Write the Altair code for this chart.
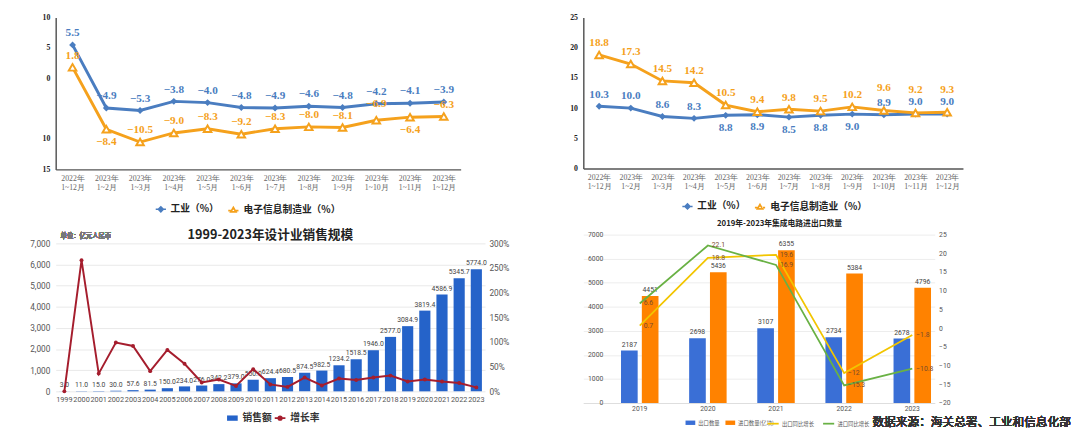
import altair as alt
import pandas as pd

# ---------------- data ----------------
PERIODS = ["2022年|1~12月", "2023年|1~2月", "2023年|1~3月", "2023年|1~4月",
           "2023年|1~5月", "2023年|1~6月", "2023年|1~7月", "2023年|1~8月",
           "2023年|1~9月", "2023年|1~10月", "2023年|1~11月", "2023年|1~12月"]
TL_INDUSTRY = [5.5, -4.9, -5.3, -3.8, -4.0, -4.8, -4.9, -4.6, -4.8, -4.2, -4.1, -3.9]
TL_ELECTRONIC = [1.8, -8.4, -10.5, -9.0, -8.3, -9.2, -8.3, -8.0, -8.1, -6.9, -6.4, -6.3]
TR_INDUSTRY = [10.3, 10.0, 8.6, 8.3, 8.8, 8.9, 8.5, 8.8, 9.0, 8.9, 9.0, 9.0]
TR_ELECTRONIC = [18.8, 17.3, 14.5, 14.2, 10.5, 9.4, 9.8, 9.5, 10.2, 9.6, 9.2, 9.3]

YEARS_BL = ["1999", "2000", "2001", "2002", "2003", "2004", "2005", "2006", "2007",
            "2008", "2009", "2010", "2011", "2012", "2013", "2014", "2015", "2016",
            "2017", "2018", "2019", "2020", "2021", "2022", "2023"]
SALES = [3.0, 11.0, 15.0, 30.0, 57.6, 81.5, 150.0, 234.0, 276.0, 342.2, 379.0, 550.0,
         624.4, 680.5, 874.5, 982.5, 1234.2, 1518.5, 1946.0, 2577.0, 3084.9, 3819.4,
         4586.9, 5345.7, 5774.0]
GROWTH = [0, 266, 36, 99, 92, 41, 84, 56, 18, 24, 11, 45, 14, 9, 28, 12, 26, 23, 28,
          32, 20, 24, 20, 17, 8]

YEARS_BR = ["2019", "2020", "2021", "2022", "2023"]
EXPORT_QTY = [2187, 2698, 3107, 2734, 2678]
IMPORT_QTY = [4451, 5436, 6355, 5384, 4796]
EXPORT_GROWTH = [0.7, 18.8, 19.6, -12.0, -1.8]
IMPORT_GROWTH = [6.6, 22.1, 16.9, -15.3, -10.8]

# ---------------- style ----------------
S1 = "工业（%）"
S2 = "电子信息制造业（%）"
BLUE = "#4a7dc0"
ORANGE = "#f5a11c"
SERIF = "Liberation Serif"
CJK = "Noto Sans CJK SC"
SANS = "Roboto"
DIA_PATH = "M-1,0H-0.5M0.5,0H1M0,-0.5L0.5,0L0,0.5L-0.5,0Z"
TRI_PATH = "M-1,0.15H-0.5M0.5,0.15H1M0,-0.45L0.5,0.4L-0.5,0.4Z"

# label placement per point index: b = below, r / R = raised above
LABEL_DY = {"a": -12, "b": 13, "r": -17, "R": -23}
TL_IND_POS = {}
TL_ELE_POS = {1: "b", 10: "b", 9: "r"}
TR_IND_POS = {4: "b", 5: "b", 6: "b", 7: "b", 8: "b"}
TR_ELE_POS = {9: "R", 10: "R", 11: "R"}


def top_panel(ind, ele, ind_pos, ele_pos, domain, ticks, label_expr, w, h, lx1, lx2, ly):
    rows = []
    for i, p in enumerate(PERIODS):
        rows.append({"period": p, "series": S1, "value": ind[i], "pos": ind_pos.get(i, "a")})
        rows.append({"period": p, "series": S2, "value": ele[i], "pos": ele_pos.get(i, "a")})
    df = pd.DataFrame(rows)
    base = alt.Chart(df).encode(
        x=alt.X("period:N", sort=PERIODS, title=None,
                axis=alt.Axis(labelExpr="split(datum.label, '|')", labelAngle=0,
                              labelFont=SERIF, labelFontSize=8, labelColor="#666",
                              labelLineHeight=10, labelPadding=5, ticks=False,
                              domainColor="#555", domainWidth=1.5)),
        y=alt.Y("value:Q", title=None,
                scale=alt.Scale(domain=domain, nice=False, zero=False),
                axis=alt.Axis(values=ticks, labelExpr=label_expr, grid=False, ticks=False,
                              labelFont=SERIF, labelFontWeight="bold", labelFontSize=8,
                              labelColor="#222", domainColor="#555", domainWidth=1.5,
                              labelPadding=6)),
    )
    layers = []
    for s, c in ((S1, BLUE), (S2, ORANGE)):
        layers.append(base.transform_filter(alt.datum.series == s)
                      .mark_line(color=c, strokeWidth=3))
    dia = base.transform_filter(alt.datum.series == S1).mark_point(
        shape="diamond", filled=True, size=50, opacity=1).encode(
        color=alt.Color("series:N", scale=alt.Scale(domain=[S1], range=[BLUE]),
                        legend=alt.Legend(title=None, orient="none", legendX=lx1, legendY=ly,
                                          symbolType=DIA_PATH, symbolSize=110,
                                          symbolStrokeColor=BLUE, symbolStrokeWidth=1.5,
                                          labelFont=CJK, labelFontSize=10,
                                          labelFontWeight="bold", labelColor="#222")))
    tri = base.transform_filter(alt.datum.series == S2).mark_point(
        shape="triangle-up", filled=False, fill="white", strokeWidth=2, size=60,
        opacity=1).encode(
        stroke=alt.Stroke("series:N", scale=alt.Scale(domain=[S2], range=[ORANGE]),
                          legend=alt.Legend(title=None, orient="none", legendX=lx2,
                                            legendY=ly, symbolType=TRI_PATH, symbolSize=110,
                                            symbolFillColor="white", symbolStrokeWidth=1.8,
                                            labelFont=CJK, labelFontSize=10,
                                            labelFontWeight="bold", labelColor="#222")))
    layers += [dia, tri]
    txt_fill = alt.Fill("series:N", scale=alt.Scale(domain=[S1, S2], range=[BLUE, ORANGE]),
                        legend=None)
    for code, dy in LABEL_DY.items():
        layers.append(
            base.transform_filter(alt.datum.pos == code)
            .mark_text(dy=dy, font=SERIF, fontSize=11.5, fontWeight="bold")
            .encode(text=alt.Text("value:Q", format=".1f"), fill=txt_fill))
    return alt.layer(*layers).properties(width=w, height=h)


tl = top_panel(TL_INDUSTRY, TL_ELECTRONIC, TL_IND_POS, TL_ELE_POS, [-15, 10],
               [10, 5, 0, -10, -15], "format(abs(datum.value), 'd')", 416, 156,
               102, 176, 191)
tr = top_panel(TR_INDUSTRY, TR_ELECTRONIC, TR_IND_POS, TR_ELE_POS, [0, 25],
               [0, 5, 10, 15, 20, 25], "format(datum.value, 'd')", 390, 155,
               101, 175, 188)

# ---------------- bottom-left ----------------
BAR_BLUE = "#2563c9"
RED = "#a51d2d"
df_bl = pd.DataFrame({"year": YEARS_BL, "sales": SALES, "growth": GROWTH})
df_bl["s1"] = "销售额"
df_bl["s2"] = "增长率"
x_bl = alt.X("year:N", title=None, sort=YEARS_BL,
             scale=alt.Scale(paddingInner=0.35, paddingOuter=0.18),
             axis=alt.Axis(labelAngle=0, labelFontSize=7.5, labelColor="#555",
                           labelFont=SANS, ticks=False, domain=False, labelPadding=4))
y_left = alt.Y("sales:Q", title=None, scale=alt.Scale(domain=[0, 7415], nice=False),
               axis=alt.Axis(values=[0, 1000, 2000, 3000, 4000, 5000, 6000, 7000],
                             labelExpr="format(datum.value, ',')", grid=True,
                             gridColor="#e8e8e8", domain=False,
                             ticks=False, labelFont=SANS, labelFontSize=8.5,
                             labelColor="#555", labelPadding=6))
bars = alt.Chart(df_bl).mark_bar(color=BAR_BLUE).encode(
    x=x_bl, y=y_left,
    color=alt.Color("s1:N", scale=alt.Scale(domain=["销售额"], range=[BAR_BLUE]),
                    legend=alt.Legend(title=None, orient="none", legendX=175, legendY=182,
                                      symbolType="M-1,-0.5H1V0.5H-1Z", symbolSize=120,
                                      labelFont=CJK, labelFontSize=10, labelFontWeight="bold",
                                      labelColor="#333")))
bar_txt = alt.Chart(df_bl).mark_text(dy=-6, fontSize=7, font=SANS, color="#444").encode(
    x=x_bl, y=y_left, text=alt.Text("sales:Q", format=".1f"))
y_right = alt.Y("growth:Q", title=None, scale=alt.Scale(domain=[0, 317.8], nice=False),
                axis=alt.Axis(orient="right", values=[0, 50, 100, 150, 200, 250, 300],
                              labelExpr="datum.value + '%'", grid=False, domain=False,
                              ticks=False, labelFont=SANS, labelFontSize=8.5,
                              labelColor="#555", labelPadding=4))
gline = alt.Chart(df_bl).mark_line(strokeWidth=2).encode(
    x=x_bl, y=y_right,
    stroke=alt.Stroke("s2:N", scale=alt.Scale(domain=["增长率"], range=[RED]),
                      legend=alt.Legend(title=None, orient="none", legendX=224, legendY=182,
                                        symbolType="M-1,0H1M0.3,0A0.3,0.3 0 1 1 -0.3,0A0.3,0.3 0 1 1 0.3,0",
                                        symbolSize=120, symbolStrokeWidth=2,
                                        labelFont=CJK, labelFontSize=10,
                                        labelFontWeight="bold", labelColor="#333")))
gpts = alt.Chart(df_bl).mark_circle(size=16, color=RED, opacity=1).encode(x=x_bl, y=y_right)
unit_txt = alt.Chart(df_bl).mark_text(text="单位：亿元人民币", fontSize=6.5, font=CJK,
                                      color="#777", align="left").encode(
    x=alt.value(5), y=alt.value(1))

bl = alt.layer(
    alt.layer(bars, bar_txt, unit_txt),
    alt.layer(gline, gpts),
).resolve_scale(y="independent").properties(
    width=441, height=161,
    title=alt.TitleParams("1999-2023年设计业销售规模", font=CJK, fontSize=13,
                          fontWeight="bold", color="#222", anchor="middle", offset=-9))

# ---------------- bottom-right ----------------
EXP_BLUE = "#3a6fd6"
IMP_ORANGE = "#ff8200"
YELLOW = "#f2c500"
GREEN = "#69b144"
BR_BAR_SERIES = ["出口数量", "进口数量(亿块)"]
BR_LINE_SERIES = ["出口同比增长", "进口同比增长"]
rows = []
for i, yv in enumerate(YEARS_BR):
    rows.append({"year": yv, "series": BR_BAR_SERIES[0], "qty": EXPORT_QTY[i]})
    rows.append({"year": yv, "series": BR_BAR_SERIES[1], "qty": IMPORT_QTY[i]})
df_brb = pd.DataFrame(rows)
rows = []
for i, yv in enumerate(YEARS_BR):
    rows.append({"year": yv, "series": BR_LINE_SERIES[0], "g": EXPORT_GROWTH[i]})
    rows.append({"year": yv, "series": BR_LINE_SERIES[1], "g": IMPORT_GROWTH[i]})
df_brl = pd.DataFrame(rows)

x_br = alt.X("year:N", title=None, sort=YEARS_BR,
             scale=alt.Scale(paddingInner=0.45, paddingOuter=0.304, align=0.91),
             axis=alt.Axis(labelAngle=0, labelFontSize=7, labelColor="#555", labelFont=SANS,
                           ticks=False, domainColor="#ddd", labelPadding=2))
xo = alt.XOffset("series:N", sort=BR_BAR_SERIES, scale=alt.Scale(paddingInner=0.2))
yl_br = alt.Y("qty:Q", title=None, scale=alt.Scale(domain=[0, 7000], nice=False),
              axis=alt.Axis(values=[0, 1000, 2000, 3000, 4000, 5000, 6000, 7000],
                            format="d", grid=True, gridColor="#ececec", domain=False,
                            ticks=False, labelFont=SANS, labelFontSize=7, labelColor="#555",
                            labelPadding=4, offset=-24))
br_bars = alt.Chart(df_brb).mark_bar().encode(
    x=x_br, xOffset=xo, y=yl_br,
    color=alt.Color("series:N", scale=alt.Scale(domain=BR_BAR_SERIES,
                                                range=[EXP_BLUE, IMP_ORANGE]),
                    legend=alt.Legend(title=None, orient="none", legendX=104, legendY=187,
                                      direction="horizontal",
                                      symbolType="M-1,-0.45H1V0.45H-1Z",
                                      symbolSize=100, labelFont=CJK, labelFontSize=5.5,
                                      labelColor="#555", columnPadding=4, labelOffset=2)))
br_btxt = alt.Chart(df_brb).mark_text(dy=-6, fontSize=7, font=SANS, color="#444").encode(
    x=x_br, xOffset=xo, y=yl_br, text=alt.Text("qty:Q", format="d"))
src_txt = alt.Chart(df_brb).mark_text(text="数据来源：海关总署、工业和信息化部", fontSize=12,
                                      font=CJK, color="#333", align="left").encode(
    x=alt.value(297), y=alt.value(193))
yr_br = alt.Y("g:Q", title=None, scale=alt.Scale(domain=[-20, 25], nice=False, zero=False),
              axis=alt.Axis(orient="right", values=[-20, -15, -10, -5, 0, 5, 10, 15, 20, 25],
                            grid=False, domain=False, ticks=False, labelFont=SANS,
                            labelFontSize=7, labelColor="#555", labelPadding=4))
br_lines = alt.Chart(df_brl).mark_line(strokeWidth=1.8).encode(
    x=x_br, y=yr_br,
    stroke=alt.Stroke("series:N", scale=alt.Scale(domain=BR_LINE_SERIES,
                                                  range=[YELLOW, GREEN]),
                      legend=alt.Legend(title=None, orient="none", legendX=188, legendY=187,
                                        direction="horizontal", symbolType="stroke",
                                        symbolSize=130, symbolStrokeWidth=1.8,
                                        labelFont=CJK, labelFontSize=5.5,
                                        labelColor="#555", columnPadding=4, labelOffset=2)))
br_ltxt = alt.Chart(df_brl).mark_text(dx=4, align="left", fontSize=7, font=SANS,
                                      color="#7a4a2a").encode(
    x=x_br, y=yr_br, text=alt.Text("g:Q", format=".1~f"))

br = alt.layer(
    alt.layer(br_bars, br_btxt, src_txt),
    alt.layer(br_lines, br_ltxt),
).resolve_scale(y="independent").properties(
    width=361, height=173,
    title=alt.TitleParams("2019年-2023年集成电路进出口数量", font=CJK, fontSize=8,
                          fontWeight="bold", color="#222", anchor="middle", offset=3,
                          dx=21))

chart = alt.concat(
    tl, tr, bl, br, columns=2, spacing={"row": 67, "column": 101},
    bounds="flush", align="none",
).resolve_scale(
    color="independent", fill="independent", stroke="independent", shape="independent",
    x="independent", y="independent",
).resolve_legend(
    color="independent", fill="independent", stroke="independent", shape="independent",
).properties(
    padding={"left": 22, "top": 0, "right": 0, "bottom": 0},
    background="white",
).configure_view(stroke=None)

chart.save("out.html", embed_options={"renderer": "svg", "actions": False})
